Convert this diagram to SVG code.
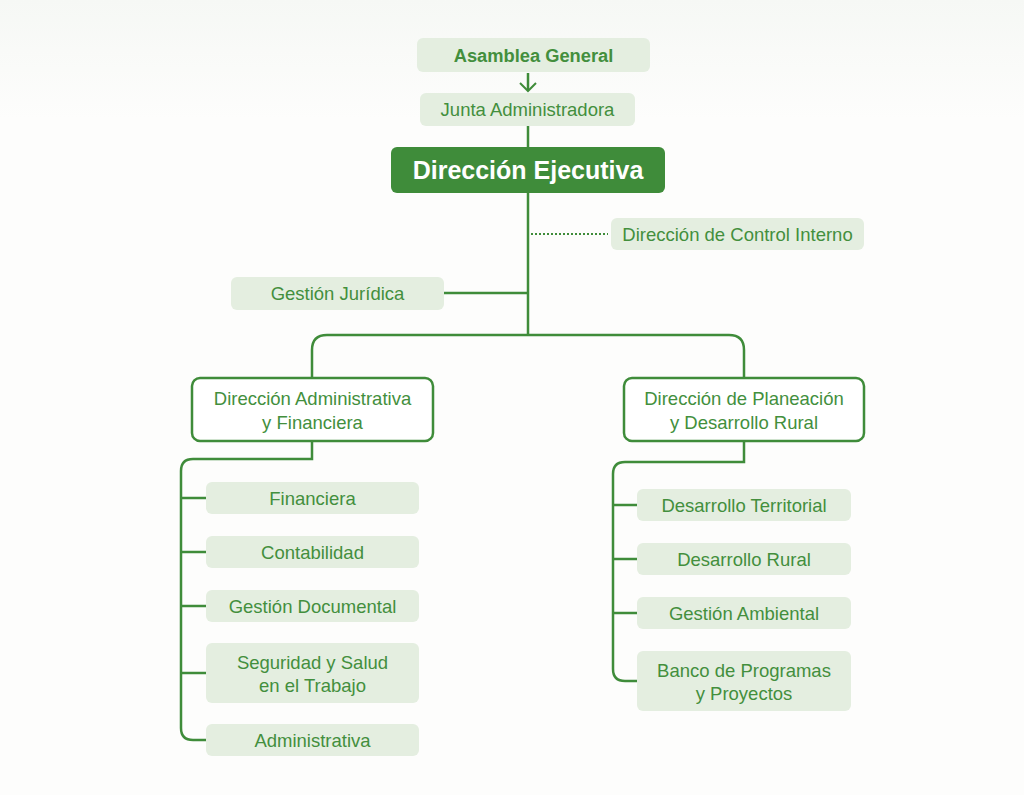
<svg xmlns="http://www.w3.org/2000/svg" width="1024" height="795" viewBox="0 0 1024 795">
<defs>
<linearGradient id="bg" x1="0" y1="0" x2="0" y2="1">
<stop offset="0" stop-color="#f6f8f5"/>
<stop offset="0.15" stop-color="#fdfdfc"/>
<stop offset="1" stop-color="#fdfdfc"/>
</linearGradient>
<style>
.lt{fill:#e4eee0}
.tx{font-family:"Liberation Sans",Arial,sans-serif;font-size:18.5px;fill:#438f3d;text-anchor:middle}
.b{font-weight:bold}
.ln{fill:none;stroke:#3f8c3a;stroke-width:2.5}
.ob{fill:#ffffff;stroke:#3f8c3a;stroke-width:2.5}
</style>
</defs>
<rect width="1024" height="795" fill="url(#bg)"/>
<g id="connectors">
<line class="ln" x1="528" y1="73" x2="528" y2="90" stroke-width="2"/>
<path d="M520 83 L528 91 L536 83" fill="none" stroke="#3f8c3a" stroke-width="2"/>
<line class="ln" x1="528" y1="126" x2="528" y2="148"/>
<line class="ln" x1="528" y1="193" x2="528" y2="335"/>
<line x1="531" y1="234" x2="608" y2="234" stroke="#3f8c3a" stroke-width="2" stroke-dasharray="2 2"/>
<line class="ln" x1="444" y1="293" x2="528" y2="293"/>
<path class="ln" d="M312 378 V350 Q312 335 327 335 H729 Q744 335 744 350 V378"/>
<path class="ln" d="M312 441 V459 H193 Q181 459 181 471 V728 Q181 740 193 740 H206"/>
<line class="ln" x1="181" y1="498" x2="206" y2="498"/>
<line class="ln" x1="181" y1="552" x2="206" y2="552"/>
<line class="ln" x1="181" y1="606" x2="206" y2="606"/>
<line class="ln" x1="181" y1="673" x2="206" y2="673"/>
<path class="ln" d="M744 441 V462 H625 Q613 462 613 474 V669 Q613 681 625 681 H637"/>
<line class="ln" x1="613" y1="505" x2="637" y2="505"/>
<line class="ln" x1="613" y1="559" x2="637" y2="559"/>
<line class="ln" x1="613" y1="613" x2="637" y2="613"/>
</g>
<g id="asamblea"><rect class="lt" x="417" y="38" width="233" height="34" rx="6"/><text class="tx b" x="533.5" y="62" style="font-size:18.3px">Asamblea General</text></g>
<g id="junta"><rect class="lt" x="420" y="93" width="215" height="33" rx="6"/><text class="tx" x="527.5" y="116">Junta Administradora</text></g>
<g id="ejecutiva"><rect x="391" y="147" width="274" height="46" rx="6" fill="#3f8c3a"/><text class="tx b" x="528" y="179" style="font-size:25px;fill:#ffffff">Dirección Ejecutiva</text></g>
<g id="control"><rect class="lt" x="611" y="218" width="253" height="32" rx="6"/><text class="tx" x="737.5" y="240.5">Dirección de Control Interno</text></g>
<g id="juridica"><rect class="lt" x="231" y="277" width="213" height="33" rx="6"/><text class="tx" x="337.5" y="300">Gestión Jurídica</text></g>
<g id="dir-admin"><rect class="ob" x="192" y="378" width="241" height="63" rx="8"/><text class="tx" x="312.5" y="404.5">Dirección Administrativa</text><text class="tx" x="312.5" y="428.5">y Financiera</text></g>
<g id="dir-plan"><rect class="ob" x="624" y="378" width="240" height="63" rx="8"/><text class="tx" x="744" y="404.5">Dirección de Planeación</text><text class="tx" x="744" y="428.5">y Desarrollo Rural</text></g>
<g id="financiera"><rect class="lt" x="206" y="482" width="213" height="32" rx="6"/><text class="tx" x="312.5" y="504.5">Financiera</text></g>
<g id="contabilidad"><rect class="lt" x="206" y="536" width="213" height="32" rx="6"/><text class="tx" x="312.5" y="558.5">Contabilidad</text></g>
<g id="documental"><rect class="lt" x="206" y="590" width="213" height="32" rx="6"/><text class="tx" x="312.5" y="612.5">Gestión Documental</text></g>
<g id="seguridad"><rect class="lt" x="206" y="643" width="213" height="60" rx="6"/><text class="tx" x="312.5" y="668.5">Seguridad y Salud</text><text class="tx" x="312.5" y="691.5">en el Trabajo</text></g>
<g id="administrativa"><rect class="lt" x="206" y="724" width="213" height="32" rx="6"/><text class="tx" x="312.5" y="746.5">Administrativa</text></g>
<g id="territorial"><rect class="lt" x="637" y="489" width="214" height="32" rx="6"/><text class="tx" x="744" y="511.5">Desarrollo Territorial</text></g>
<g id="rural"><rect class="lt" x="637" y="543" width="214" height="32" rx="6"/><text class="tx" x="744" y="565.5">Desarrollo Rural</text></g>
<g id="ambiental"><rect class="lt" x="637" y="597" width="214" height="32" rx="6"/><text class="tx" x="744" y="619.5">Gestión Ambiental</text></g>
<g id="banco"><rect class="lt" x="637" y="651" width="214" height="60" rx="6"/><text class="tx" x="744" y="676.5">Banco de Programas</text><text class="tx" x="744" y="699.5">y Proyectos</text></g>
</svg>
